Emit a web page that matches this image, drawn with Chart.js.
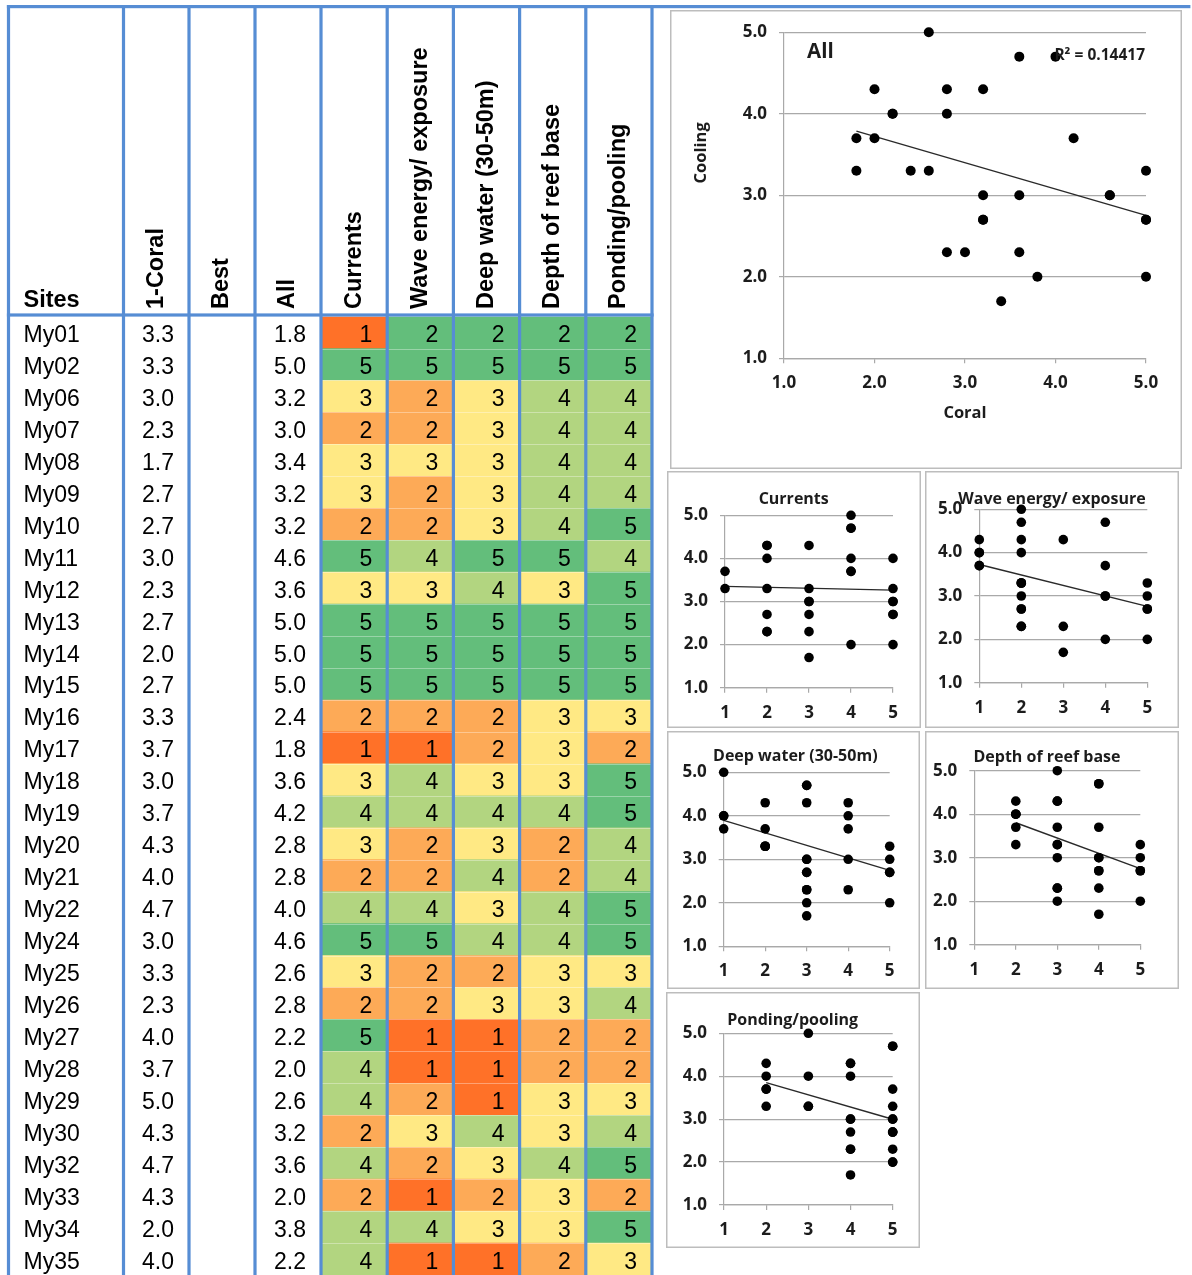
<!DOCTYPE html>
<html>
<head>
<meta charset="utf-8">
<script src="https://cdn.jsdelivr.net/npm/chart.js@4.4.1/dist/chart.umd.min.js"></script>
<style>
  html, body { margin: 0; padding: 0; background: #fff; overflow: hidden; }
  #page { position: relative; width: 1192px; height: 1275px; }
  canvas { position: absolute; display: block; }
</style>
</head>
<body>
<div id="page">
  <canvas id="table" width="1192" height="1275" style="left:0;top:0"></canvas>
</div>
<script>
// ---- Site scores -------------------------------------------------------
const SITES = ['My01','My02','My06','My07','My08','My09','My10','My11','My12','My13',
               'My14','My15','My16','My17','My18','My19','My20','My21','My22','My24',
               'My25','My26','My27','My28','My29','My30','My32','My33','My34','My35'];
const CORAL = [3.3,3.3,3.0,2.3,1.7,2.7,2.7,3.0,2.3,2.7,2.0,2.7,3.3,3.7,3.0,
               3.7,4.3,4.0,4.7,3.0,3.3,2.3,4.0,3.7,5.0,4.3,4.7,4.3,2.0,4.0];
const ALL = [1.8,5.0,3.2,3.0,3.4,3.2,3.2,4.6,3.6,5.0,5.0,5.0,2.4,1.8,3.6,
             4.2,2.8,2.8,4.0,4.6,2.6,2.8,2.2,2.0,2.6,3.2,3.6,2.0,3.8,2.2];
const CURRENTS = [1,5,3,2,3,3,2,5,3,5,5,5,2,1,3,4,3,2,4,5,3,2,5,4,4,2,4,2,4,4];
const WAVE     = [2,5,2,2,3,2,2,4,3,5,5,5,2,1,4,4,2,2,4,5,2,2,1,1,2,3,2,1,4,1];
const DEEP     = [2,5,3,3,3,3,3,5,4,5,5,5,2,2,3,4,3,4,3,4,2,3,1,1,1,4,3,2,3,1];
const DEPTH    = [2,5,4,4,4,4,4,5,3,5,5,5,3,3,3,4,2,2,4,4,3,3,2,2,3,3,4,3,3,2];
const PONDING  = [2,5,4,4,4,4,5,4,5,5,5,5,3,2,5,5,4,4,5,5,3,4,2,2,3,4,5,2,5,3];

const TEXT_HEADERS = ['1-Coral', 'Best', 'All'];
const FACTOR_HEADERS = ['Currents', 'Wave energy/ exposure', 'Deep water (30-50m)',
                        'Depth of reef base', 'Ponding/pooling'];
const AXIS_TICKS = [1, 2, 3, 4, 5];
const R2_LABEL = 'R² = 0.14417';

// ---- Styling -------------------------------------------------------------
const FACTORS = [CURRENTS, WAVE, DEEP, DEPTH, PONDING];
const SHADES = { 1: '#FF7128', 2: '#FDAA57', 3: '#FFE984', 4: '#B2D580', 5: '#63BE7B' };
// Row My01 keeps the green fill on its 2-scores, as in the worksheet.
function shade(site, v) {
  if (site === 'My01' && v === 2) return SHADES[5];
  return SHADES[v];
}
const BLUE = '#568DD4';
const TABLE_FONT = '"Liberation Sans", Arial, sans-serif';
const PLOT_FONT = '"Open Sans", "Noto Sans", sans-serif';
const GRID = '#A9A9A9';
const INK = '#1c1c1c';
// left borders of Sites, 1-Coral, Best, All, then the factor block
const COL_EDGES = [8.5, 123.5, 189, 255, 321, 652];
const HEADER_LINE_Y = 315;

// ---- Score table (coloured cells are floating bars on a column axis) ----
const tableDecor = {
  id: 'tableDecor',
  afterDatasetsDraw(chart) {
    const { ctx, scales: { x, y } } = chart;
    const rowH = y.getPixelForValue(1) - y.getPixelForValue(0);
    ctx.save();

    // faint cell rules inside the coloured block
    ctx.strokeStyle = 'rgba(255,255,255,0.35)';
    ctx.lineWidth = 1;
    for (let i = 1; i < SITES.length; i++) {
      const yy = Math.round(y.getPixelForValue(i) - rowH / 2) + 0.5;
      ctx.beginPath(); ctx.moveTo(x.left, yy); ctx.lineTo(x.right, yy); ctx.stroke();
    }

    // body text
    ctx.fillStyle = '#000';
    ctx.font = '23px ' + TABLE_FONT;
    ctx.textBaseline = 'alphabetic';
    SITES.forEach((site, i) => {
      const base = y.getPixelForValue(i) + 9.5;
      ctx.textAlign = 'left';
      ctx.fillText(site, COL_EDGES[0] + 15, base);
      ctx.textAlign = 'right';
      ctx.fillText(CORAL[i].toFixed(1), COL_EDGES[2] - 15, base);
      ctx.fillText(ALL[i].toFixed(1), COL_EDGES[4] - 15, base);
      FACTORS.forEach((vals, c) => {
        ctx.fillText(String(vals[i]), x.getPixelForValue(c + 1) - 15, base);
      });
    });

    // headers
    ctx.font = 'bold 23.5px ' + TABLE_FONT;
    ctx.textAlign = 'left';
    ctx.fillText('Sites', COL_EDGES[0] + 15, 306.5);
    const centres = [
      (COL_EDGES[1] + COL_EDGES[2]) / 2,
      (COL_EDGES[2] + COL_EDGES[3]) / 2,
      (COL_EDGES[3] + COL_EDGES[4]) / 2,
      ...FACTOR_HEADERS.map((_, c) => (x.getPixelForValue(c) + x.getPixelForValue(c + 1)) / 2)
    ];
    [...TEXT_HEADERS, ...FACTOR_HEADERS].forEach((label, k) => {
      ctx.save();
      ctx.translate(centres[k], 309);
      ctx.rotate(-Math.PI / 2);
      ctx.textAlign = 'left';
      ctx.textBaseline = 'middle';
      ctx.fillText(label, 0, 0);
      ctx.restore();
    });

    // blue cell borders
    ctx.fillStyle = BLUE;
    const verticals = [COL_EDGES[0], COL_EDGES[1], COL_EDGES[2], COL_EDGES[3],
                       ...FACTOR_HEADERS.map((_, c) => x.getPixelForValue(c)), x.right];
    verticals.forEach(e => ctx.fillRect(e - 1.6, 5, 3.2, chart.height - 5));
    ctx.fillRect(COL_EDGES[0] - 1.6, 5, chart.width - COL_EDGES[0], 3.2);
    ctx.fillRect(COL_EDGES[0] - 1.6, HEADER_LINE_Y - 1.6, x.right - COL_EDGES[0] + 3.2, 3.2);
    ctx.restore();
  }
};

new Chart(document.getElementById('table'), {
  type: 'bar',
  data: {
    labels: SITES,
    datasets: FACTORS.map((vals, c) => ({
      label: FACTOR_HEADERS[c],
      data: vals.map(() => [c, c + 1]),
      backgroundColor: vals.map((v, i) => shade(SITES[i], v)),
      grouped: false,
      barPercentage: 1,
      categoryPercentage: 1,
      borderWidth: 0,
      borderSkipped: false
    }))
  },
  options: {
    indexAxis: 'y',
    responsive: false,
    animation: false,
    devicePixelRatio: 1,
    events: [],
    layout: { padding: { left: 321, right: 1192 - 652, top: 316.6, bottom: 0 } },
    plugins: { legend: { display: false }, tooltip: { enabled: false } },
    scales: {
      x: { type: 'linear', min: 0, max: FACTORS.length, display: false },
      y: { type: 'category', display: false, offset: true }
    }
  },
  plugins: [tableDecor]
});

// ---- Scatter panels: Coral score against each factor ------------------
function fitLine(xs, ys) {
  const n = xs.length;
  const mx = xs.reduce((a, b) => a + b, 0) / n;
  const my = ys.reduce((a, b) => a + b, 0) / n;
  let sxy = 0, sxx = 0;
  for (let i = 0; i < n; i++) { sxy += (xs[i] - mx) * (ys[i] - my); sxx += (xs[i] - mx) ** 2; }
  const b = sxy / sxx, a = my - b * mx;
  const x0 = Math.min(...xs), x1 = Math.max(...xs);
  return [{ x: x0, y: a + b * x0 }, { x: x1, y: a + b * x1 }];
}

const PANELS = [
  { title: 'All', xs: ALL, xDecimals: 1, main: true, radius: 5,
    frame: [670, 10, 512, 459], area: [114, 17.3, 476, 348.3] },
  { title: FACTOR_HEADERS[0], xs: CURRENTS, xDecimals: 0, radius: 4.8, titleAt: [126.7, 28.3],
    frame: [667, 471, 254, 257], area: [58, 44.3, 226, 216.7] },
  { title: FACTOR_HEADERS[1], xs: WAVE, xDecimals: 0, radius: 4.8, titleAt: [127, 28.3],
    frame: [925, 471, 254, 257], area: [54.3, 38.3, 222.3, 211.7] },
  { title: FACTOR_HEADERS[2], xs: DEEP, xDecimals: 0, radius: 4.8, titleAt: [128.3, 25.3],
    frame: [667, 731, 253, 258], area: [56.7, 41.3, 222.7, 215.3] },
  { title: FACTOR_HEADERS[3], xs: DEPTH, xDecimals: 0, radius: 4.8, titleAt: [122, 26.3],
    frame: [925, 731, 254, 258], area: [49.3, 39.7, 215.3, 213.7] },
  { title: FACTOR_HEADERS[4], xs: PONDING, xDecimals: 0, radius: 4.8, titleAt: [126.7, 28],
    frame: [666, 992, 254, 256], area: [58, 41.3, 226.7, 213] }
];

const panelDecor = {
  id: 'panelDecor',
  beforeDraw(chart, args, opts) {
    const { ctx, width, height } = chart;
    ctx.save();
    ctx.fillStyle = '#fff';
    ctx.fillRect(0, 0, width, height);
    ctx.strokeStyle = '#BDBDBD';
    ctx.lineWidth = 1.5;
    ctx.strokeRect(0.75, 0.75, width - 1.5, height - 1.5);
    ctx.restore();
  },
  afterDraw(chart, args, opts) {
    const { ctx, chartArea: ca } = chart;
    const p = opts.panel;
    ctx.save();
    ctx.fillStyle = INK;
    if (p.main) {
      ctx.font = 'bold 20.5px ' + PLOT_FONT;
      ctx.textAlign = 'left'; ctx.textBaseline = 'middle';
      ctx.fillText(p.title, ca.left + 23, ca.top + 19.5);
      ctx.font = 'bold 15.5px ' + PLOT_FONT;
      ctx.textAlign = 'right';
      ctx.fillText(R2_LABEL, ca.right - 1, ca.top + 23);
      ctx.font = 'bold 16.5px ' + PLOT_FONT;
      ctx.textAlign = 'center';
      ctx.fillText('Coral', (ca.left + ca.right) / 2, ca.bottom + 54.5);
      ctx.save();
      ctx.translate(31, ca.top + 0.37 * (ca.bottom - ca.top));
      ctx.rotate(-Math.PI / 2);
      ctx.fillText('Cooling', 0, 0);
      ctx.restore();
    } else {
      ctx.font = 'bold 16px ' + PLOT_FONT;
      ctx.textAlign = 'center'; ctx.textBaseline = 'middle';
      ctx.fillText(p.title, p.titleAt[0], p.titleAt[1]);
    }
    ctx.restore();
  }
};

PANELS.forEach(p => {
  const [fx, fy, fw, fh] = p.frame;
  const [al, at, ar, ab] = p.area;
  const cv = document.createElement('canvas');
  cv.width = fw; cv.height = fh;
  cv.style.left = fx + 'px'; cv.style.top = fy + 'px';
  document.getElementById('page').appendChild(cv);

  const tickFont = { family: PLOT_FONT, size: 17, weight: 'bold' };
  new Chart(cv, {
    type: 'scatter',
    data: {
      datasets: [
        {
          data: p.xs.map((v, i) => ({ x: v, y: CORAL[i] })),
          pointRadius: p.radius,
          pointBackgroundColor: '#000',
          pointBorderWidth: 0,
          clip: false
        },
        {
          data: fitLine(p.xs, CORAL),
          showLine: true,
          pointRadius: 0,
          borderColor: '#2a2a2a',
          borderWidth: 1.4,
          clip: false
        }
      ]
    },
    options: {
      responsive: false,
      animation: false,
      devicePixelRatio: 1,
      events: [],
      layout: { padding: { left: 0, top: at, right: fw - ar, bottom: 0 } },
      plugins: { legend: { display: false }, tooltip: { enabled: false }, panelDecor: { panel: p } },
      scales: {
        x: {
          type: 'linear', min: 1, max: 5,
          afterBuildTicks: s => { s.ticks = AXIS_TICKS.map(v => ({ value: v })); },
          afterFit: s => { s.height = fh - ab; },
          ticks: { font: tickFont, color: INK, padding: 10, maxRotation: 0, autoSkip: false,
                   callback: v => Number(v).toFixed(p.xDecimals) },
          grid: { drawOnChartArea: false, drawTicks: true, tickLength: 5, color: GRID, lineWidth: 1.2 },
          border: { display: true, color: GRID, width: 1.2 }
        },
        y: {
          type: 'linear', min: 1, max: 5,
          afterBuildTicks: s => { s.ticks = AXIS_TICKS.map(v => ({ value: v })); },
          afterFit: s => { s.width = al; },
          ticks: { font: tickFont, color: INK, padding: 12, autoSkip: false,
                   callback: v => Number(v).toFixed(1) },
          grid: { drawOnChartArea: true, drawTicks: true, tickLength: 5, color: GRID, lineWidth: 1.2 },
          border: { display: true, color: GRID, width: 1.2 }
        }
      }
    },
    plugins: [panelDecor]
  });
});
</script>
</body>
</html>
